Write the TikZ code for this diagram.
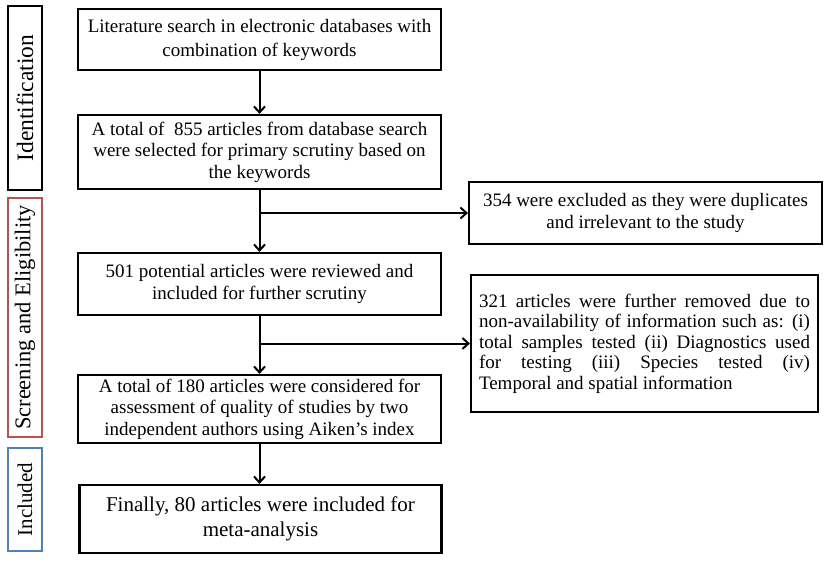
\documentclass[tikz,border=0pt]{standalone}
\usepackage{fontspec}
\setmainfont{Liberation Serif}
\usetikzlibrary{arrows.meta,positioning}
\definecolor{screenred}{RGB}{192,80,77}
\definecolor{inclblue}{RGB}{79,129,189}

\begin{document}
\begin{tikzpicture}[x=1pt,y=-1pt,
    stagebox/.style={draw,line width=2.2pt,align=center,inner sep=0pt,font=\fontsize{19}{21.5}\selectfont},
    phasebox/.style={draw,line width=1.8pt,rotate=90,inner sep=0pt,minimum height=34pt},
    flow/.style={line width=2pt,-{Straight Barb[length=6pt,width=11pt,line width=2pt]}}]
    \useasboundingbox (0,0) rectangle (829,563);
    % phases
    \node[phasebox,minimum width=184pt,font=\fontsize{23.5}{26}\selectfont] (ident) at (25,98) {Identification};
    \node[phasebox,draw=screenred,minimum width=239pt,font=\fontsize{22.5}{26}\selectfont] (screen) at (25,317.5) {Screening and Eligibility};
    \node[phasebox,draw=inclblue,minimum width=103pt,font=\fontsize{21}{26}\selectfont] (incl) at (25,499.5) {Included};
    % main flow
    \node[stagebox,minimum width=363pt,minimum height=61pt,font=\fontsize{19}{24}\selectfont] (search) at (259.5,39.5)
        {Literature search in electronic databases with\\combination of keywords};
    \node[stagebox,minimum width=363pt,minimum height=74pt] (total) at (259.5,152)
        {A total of \ 855 articles from database search\\were selected for primary scrutiny based on\\the keywords};
    \node[stagebox,minimum width=363pt,minimum height=62pt] (potential) at (259.5,284)
        {501 potential articles were reviewed and\\included for further scrutiny};
    \node[stagebox,minimum width=363pt,minimum height=68pt] (quality) at (259.5,409)
        {A total of 180 articles were considered for\\assessment of quality of studies by two\\independent authors using Aiken’s index};
    \node[stagebox,minimum width=362pt,minimum height=68pt,font=\fontsize{21}{25}\selectfont] (final) at (260.5,519)
        {Finally, 80 articles were included for\\meta-analysis};
    % exclusions
    \node[stagebox,minimum width=353pt,minimum height=62pt] (dupl) at (645.5,213)
        {354 were excluded as they were duplicates\\and irrelevant to the study};
    \node[stagebox,minimum width=347pt,minimum height=137pt,text width=331pt,align=justify,font=\fontsize{19}{20.5}\selectfont] (removed) at (644.5,343.5)
        {321 articles were further removed due to\linebreak non-availability of information such as: (i)\linebreak total samples tested (ii) Diagnostics used\linebreak for testing (iii) Species tested (iv)\linebreak Temporal and spatial information};
    % connectors
    \draw[flow] (search) -- (total);
    \draw[flow] (total) -- (potential);
    \draw[flow] (total.south |- dupl.west) -- (dupl.west);
    \draw[flow] (potential) -- (quality);
    \draw[flow] (potential.south |- removed.west) -- (removed.west);
    \draw[flow] (quality.south) -- (quality.south |- final.north);
\end{tikzpicture}
\end{document}
